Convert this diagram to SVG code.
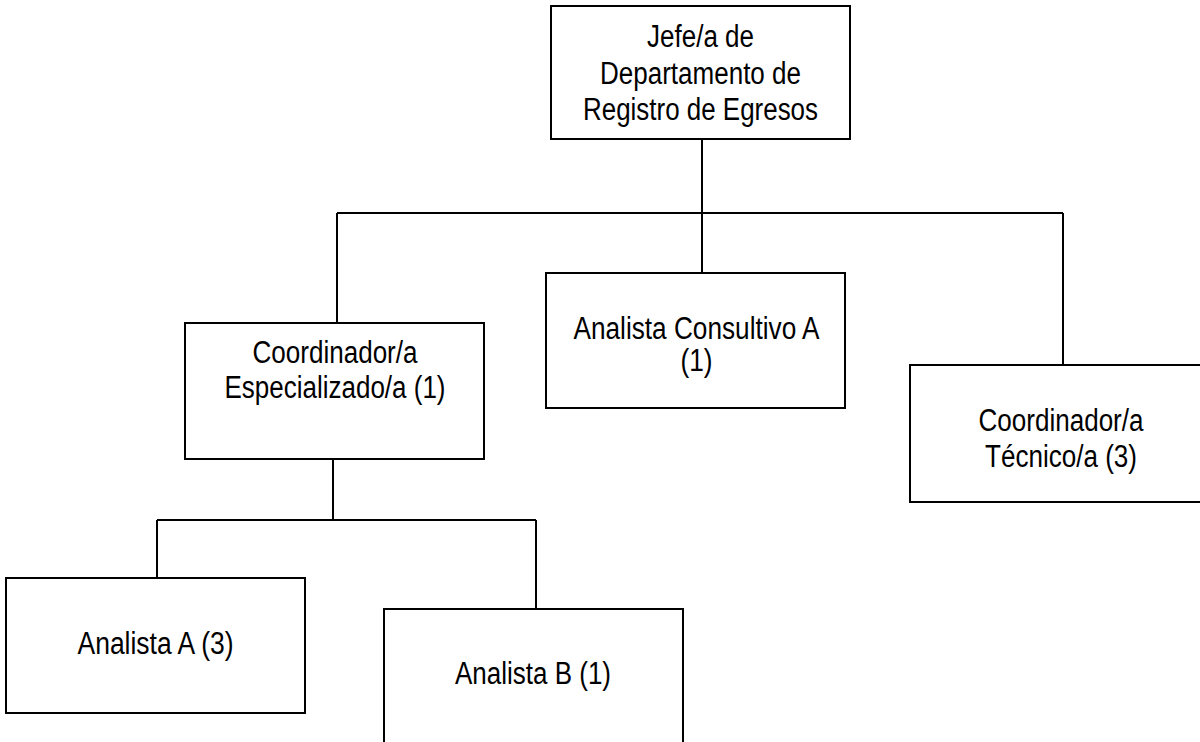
<svg xmlns="http://www.w3.org/2000/svg" width="1200" height="742" viewBox="0 0 1200 742">
  <style>
    .box { fill: #ffffff; stroke: #000000; stroke-width: 2; }
    .link { fill: none; stroke: #000000; stroke-width: 2; }
    .label { font-family: "Liberation Sans Narrow", "Liberation Sans", Arial, sans-serif; font-size: 31px; fill: #000000; text-anchor: middle; }
  </style>
  <rect width="1200" height="742" fill="#ffffff"/>

  <!-- connectors of the organisation chart -->
  <g id="connectors">
    <path class="link" d="M702 139 V213"/>
    <path class="link" d="M337 213 H1063"/>
    <path class="link" d="M337 213 V323"/>
    <path class="link" d="M702 213 V273"/>
    <path class="link" d="M1063 213 V365"/>
    <path class="link" d="M333 459 V520"/>
    <path class="link" d="M157 520 H536"/>
    <path class="link" d="M157 520 V578"/>
    <path class="link" d="M536 520 V609"/>
  </g>

  <g id="jefe">
    <rect class="box" x="551" y="6" width="299" height="133"/>
    <text class="label" x="700.5" y="47" textLength="107" lengthAdjust="spacingAndGlyphs">Jefe/a de</text>
    <text class="label" x="700.5" y="83.5" textLength="201" lengthAdjust="spacingAndGlyphs">Departamento de</text>
    <text class="label" x="700.5" y="120" textLength="235" lengthAdjust="spacingAndGlyphs">Registro de Egresos</text>
  </g>

  <g id="analista-consultivo">
    <rect class="box" x="546" y="273" width="299" height="135"/>
    <text class="label" x="696.5" y="339" textLength="246" lengthAdjust="spacingAndGlyphs">Analista Consultivo A</text>
    <text class="label" x="696.5" y="371" textLength="32" lengthAdjust="spacingAndGlyphs">(1)</text>
  </g>

  <g id="coordinador-especializado">
    <rect class="box" x="185" y="323" width="299" height="136"/>
    <text class="label" x="335" y="363" textLength="165" lengthAdjust="spacingAndGlyphs">Coordinador/a</text>
    <text class="label" x="335" y="398" textLength="221" lengthAdjust="spacingAndGlyphs">Especializado/a (1)</text>
  </g>

  <g id="coordinador-tecnico">
    <rect class="box" x="910" y="365" width="302" height="137"/>
    <text class="label" x="1061" y="431" textLength="165" lengthAdjust="spacingAndGlyphs">Coordinador/a</text>
    <text class="label" x="1061" y="467" textLength="152" lengthAdjust="spacingAndGlyphs">Técnico/a (3)</text>
  </g>

  <g id="analista-a">
    <rect class="box" x="6" y="578" width="299" height="135"/>
    <text class="label" x="155.5" y="654" textLength="156" lengthAdjust="spacingAndGlyphs">Analista A (3)</text>
  </g>

  <g id="analista-b">
    <rect class="box" x="384" y="609" width="299" height="140"/>
    <text class="label" x="533" y="684" textLength="156" lengthAdjust="spacingAndGlyphs">Analista B (1)</text>
  </g>
</svg>
